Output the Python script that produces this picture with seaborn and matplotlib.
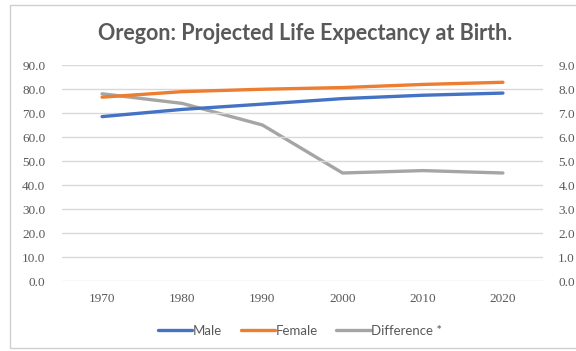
import matplotlib
matplotlib.use("Agg")
import matplotlib.pyplot as plt
import seaborn as sns
import pandas as pd
from matplotlib.patches import Rectangle

# Oregon projected life expectancy at birth, by decade
years = [1970, 1980, 1990, 2000, 2010, 2020]
male = [68.5, 71.5, 73.7, 76.0, 77.4, 78.3]
female = [76.6, 78.9, 79.9, 80.6, 81.9, 82.8]
difference = [7.8, 7.4, 6.5, 4.5, 4.6, 4.5]

left_ticks = [0, 10, 20, 30, 40, 50, 60, 70, 80, 90]
right_ticks = [0, 1, 2, 3, 4, 5, 6, 7, 8, 9]

df = pd.DataFrame({"Year": years, "Male": male, "Female": female,
                   "Difference *": difference})

sns.set_theme(style="white")
plt.rcParams["font.family"] = ["Lato", "DejaVu Sans"]

TEXT = "#595959"
GRID = "#d9d9d9"
BLUE = "#4472C4"
ORANGE = "#ED7D31"
GRAY = "#A5A5A5"
TICK_FONT = ["Liberation Serif", "DejaVu Serif"]

W, H = 576, 351
fig = plt.figure(figsize=(W / 100, H / 100), dpi=100)
fig.patch.set_facecolor("white")

# outer chart frame
fig.patches.append(Rectangle((10 / W, 1 - 348 / H), (W + 5 - 10) / W, (348 - 5) / H,
                             transform=fig.transFigure, fill=False,
                             edgecolor="#d0d0d0", linewidth=1.0))

x0, x1 = 62, 543
y0, y1 = 65, 281
ax = fig.add_axes([x0 / W, 1 - y1 / H, (x1 - x0) / W, (y1 - y0) / H])
ax2 = ax.twinx()

sns.lineplot(data=df, x="Year", y="Male", ax=ax, color=BLUE, linewidth=2.4,
             label="Male", legend=False)
sns.lineplot(data=df, x="Year", y="Female", ax=ax, color=ORANGE, linewidth=2.4,
             label="Female", legend=False)
sns.lineplot(data=df, x="Year", y="Difference *", ax=ax2, color=GRAY,
             linewidth=2.4, label="Difference *", legend=False)

ax.set_xlim(1965, 2025)
ax.set_ylim(0, 90)
ax2.set_ylim(0, 9)
ax.set_yticks(left_ticks)
ax.set_yticklabels([f"{v:.1f}" for v in left_ticks])
ax2.set_yticks(right_ticks)
ax2.set_yticklabels([f"{v:.1f}" for v in right_ticks])
ax.set_xticks(years)
ax.set_xticklabels([str(y) for y in years])

ax.grid(axis="y", color=GRID, linewidth=1.0)
ax.set_axisbelow(True)
ax2.grid(False)
ax.set_zorder(ax2.get_zorder() + 1)
ax.patch.set_visible(False)
for a in (ax, ax2):
    for s in a.spines.values():
        s.set_visible(False)
    a.set_xlabel("")
    a.set_ylabel("")
    a.tick_params(length=0, labelsize=9.5, labelcolor=TEXT)
    for t in a.get_xticklabels() + a.get_yticklabels():
        t.set_fontfamily(TICK_FONT)
ax.tick_params(axis="y", pad=12)
ax2.tick_params(axis="y", pad=11)
ax.tick_params(axis="x", pad=9)

fig.text(0.5 * (x0 + x1) / W + 0.005, 1 - 34 / H,
         "Oregon: Projected Life Expectancy at Birth.",
         ha="center", va="center", fontsize=15.5, fontweight="bold", color=TEXT)

handles = ax.get_lines()[:2] + ax2.get_lines()[:1]
labels = ["Male", "Female", "Difference *"]
fig.legend(handles, labels, loc="center", bbox_to_anchor=(300 / W, 1 - 331 / H),
           ncol=3, frameon=False, fontsize=9.5, labelcolor=TEXT,
           handlelength=2.6, handletextpad=0.05, columnspacing=1.4)

fig.savefig("out.png", dpi=100, facecolor="white")
